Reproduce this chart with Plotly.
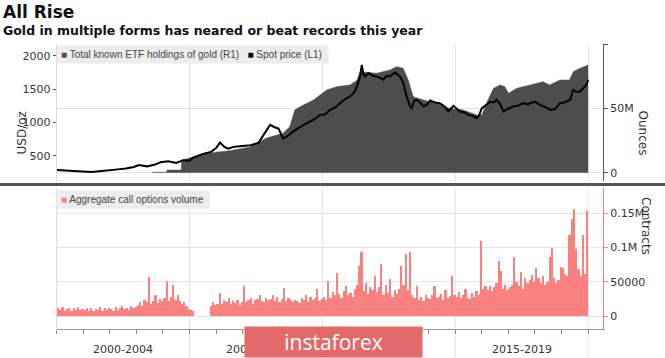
import plotly.graph_objects as go

W, H = 665, 358

# ---------------- data ----------------
spot_x = [2000.0, 2000.3, 2000.6, 2001.0, 2001.3, 2001.6, 2002.0, 2002.3, 2002.6, 2002.9,
          2003.1, 2003.4, 2003.7, 2003.9, 2004.2, 2004.5, 2004.75, 2005.0, 2005.1, 2005.5,
          2005.8, 2006.0, 2006.15, 2006.3, 2006.45, 2006.7, 2007.0, 2007.3, 2007.6, 2007.9,
          2008.03, 2008.2, 2008.35, 2008.52, 2008.7, 2008.9, 2009.1, 2009.42, 2009.7, 2009.91,
          2010.1, 2010.29, 2010.5, 2010.66, 2010.85, 2011.04, 2011.2, 2011.3, 2011.42, 2011.48,
          2011.55, 2011.6, 2011.73, 2011.9, 2012.04, 2012.2, 2012.29, 2012.42, 2012.54, 2012.73,
          2012.85, 2012.92, 2013.04, 2013.17, 2013.3, 2013.36, 2013.46, 2013.55, 2013.7, 2013.8,
          2013.95, 2014.05, 2014.25, 2014.42, 2014.6, 2014.74, 2014.93, 2015.05, 2015.18, 2015.35,
          2015.49, 2015.65, 2015.81, 2015.9, 2016.0, 2016.15, 2016.31, 2016.45, 2016.56, 2016.7,
          2016.81, 2016.95, 2017.18, 2017.35, 2017.56, 2017.75, 2017.94, 2018.05, 2018.19, 2018.35,
          2018.57, 2018.75, 2018.94, 2019.1, 2019.32, 2019.44, 2019.55, 2019.7, 2019.8, 2019.88,
          2019.95, 2020.0]
spot_y = [291, 285, 278, 265, 262, 272, 282, 300, 312, 335,
          365, 345, 372, 405, 420, 395, 435, 430, 470, 530,
          560, 620, 700, 640, 610, 640, 650, 660, 700, 900,
          965, 930, 910, 760, 800, 865, 920, 990, 1050, 1115,
          1120, 1190, 1230, 1290, 1350, 1390, 1450, 1540, 1700, 1860,
          1720, 1690, 1740, 1700, 1690, 1660, 1640, 1700, 1690, 1750,
          1720, 1690, 1600, 1390, 1240, 1215, 1330, 1340, 1290, 1240,
          1270, 1330, 1300, 1290, 1240, 1165, 1250, 1210, 1165, 1150,
          1115, 1100, 1065, 1110, 1215, 1260, 1310, 1300, 1340, 1270,
          1165, 1200, 1240, 1250, 1290, 1275, 1310, 1300, 1260, 1240,
          1190, 1200, 1290, 1300, 1340, 1490, 1460, 1465, 1500, 1540,
          1580, 1640]

etf_x = [2003.6, 2004.14, 2004.15, 2004.69, 2004.7, 2005.37, 2006.0, 2006.5, 2007.28, 2007.9,
         2008.52, 2008.77, 2008.96, 2009.16, 2009.66, 2010.16, 2010.54, 2011.04, 2011.3, 2011.42,
         2012.04, 2012.54, 2012.79, 2013.04, 2013.23, 2013.42, 2013.8, 2014.3, 2014.8, 2015.3,
         2015.8, 2016.0, 2016.2, 2016.44, 2016.69, 2016.87, 2017.0, 2017.32, 2017.82, 2018.3,
         2018.55, 2018.94, 2019.3, 2019.44, 2019.7, 2020.0]
etf_m = [0.4, 0.4, 2.0, 2.0, 9.5, 13.8, 16, 17, 20, 27,
         30.7, 35.8, 48.8, 51.4, 56.6, 64.4, 67, 68.3, 72, 78.7,
         77.4, 80, 82.6, 81.3, 72.2, 59.2, 56.6, 54, 50, 48.8,
         45, 45, 55.3, 65.7, 68.3, 67, 61.8, 65.7, 68.3, 70.9,
         68.3, 72.2, 72.2, 78.7, 81.3, 83.9]  # millions of ounces

calls_k = {
    2000: [11, 9, 13, 8, 10, 12, 8, 11, 9, 13, 9, 10],
    2001: [9, 11, 8, 12, 8, 10, 9, 13, 8, 11, 9, 12],
    2002: [10, 8, 13, 9, 11, 14, 10, 12, 9, 15, 11, 13],
    2003: [16, 20, 14, 24, 20, 57, 18, 22, 30, 19, 25, 22],
    2004: [26, 51, 22, 28, 45, 24, 30, 22, 18, 20, 14, 10],
    2005: [9, 7, 0, 0, 0, 0, 0, 0, 0, 14, 20, 16],
    2006: [18, 33, 17, 23, 20, 26, 17, 22, 19, 24, 16, 21],
    2007: [44, 20, 24, 27, 18, 23, 25, 30, 22, 20, 27, 24],
    2008: [25, 31, 22, 28, 21, 25, 41, 22, 26, 24, 20, 23],
    2009: [22, 19, 26, 24, 30, 21, 28, 23, 27, 39, 22, 25],
    2010: [28, 24, 51, 26, 35, 30, 63, 32, 27, 36, 44, 31],
    2011: [34, 28, 40, 45, 73, 93, 36, 48, 32, 42, 38, 59],
    2012: [35, 42, 76, 30, 45, 33, 54, 28, 38, 32, 40, 73],
    2013: [45, 90, 38, 93, 30, 26, 44, 24, 28, 22, 30, 26],
    2014: [25, 30, 44, 26, 28, 32, 24, 38, 27, 29, 58, 30],
    2015: [28, 35, 26, 30, 39, 27, 25, 33, 28, 37, 30, 110],
    2016: [40, 44, 38, 44, 36, 42, 48, 81, 66, 40, 45, 38],
    2017: [42, 45, 86, 50, 44, 65, 40, 55, 48, 52, 60, 50],
    2018: [70, 55, 48, 58, 45, 50, 86, 100, 55, 48, 52, 71],
    2019: [70, 62, 59, 118, 142, 157, 98, 69, 59, 118, 62, 154],
}

period_labels = ["2000-2004", "2005-2009", "2010-2014", "2015-2019"]
period_mid = [2002.5, 2007.5, 2012.5, 2017.5]
period_bounds = [2005, 2010, 2015, 2020]

calls_x, calls_y = [], []
for yr, vals in calls_k.items():
    for m, v in enumerate(vals):
        calls_x.append(yr + (m + 0.5) / 12)
        calls_y.append(v * 1000)

# ---------------- helpers ----------------
def px_x(p):
    return p / W

def px_y(p):
    return 1 - p / H

XR = [2000, 2020.56]
AREA_C = "#4d4d4d"
BAR_C = "#fb8080"
GRID_C = "#e4e4e4"
FONT = "DejaVu Sans"

fig = go.Figure()

fig.add_trace(go.Scatter(x=etf_x, y=[v * 1e6 for v in etf_m], mode="lines",
                         line=dict(color=AREA_C, width=0.5), fill="tozeroy",
                         fillcolor=AREA_C, xaxis="x", yaxis="y", showlegend=False,
                         hoverinfo="skip"))
fig.add_trace(go.Scatter(x=spot_x, y=spot_y, mode="lines",
                         line=dict(color="#000000", width=2), xaxis="x", yaxis="y2",
                         showlegend=False))
fig.add_trace(go.Bar(x=calls_x, y=calls_y, width=1 / 12, marker=dict(color=BAR_C, line=dict(width=0)),
                     xaxis="x2", yaxis="y3", showlegend=False))

tickfont = dict(family=FONT, size=11, color="#333333")

fig.update_layout(
    width=W, height=H,
    margin=dict(l=0, r=0, t=0, b=0),
    paper_bgcolor="white", plot_bgcolor="white",
    bargap=0,
    xaxis=dict(domain=[px_x(56.7), px_x(603)], range=XR, anchor="y",
               tickvals=period_bounds, showticklabels=False, ticks="",
               showgrid=True, gridcolor=GRID_C, zeroline=False, showline=False),
    yaxis=dict(domain=[px_y(181), px_y(44)], range=[-6.47e6, 100.23e6], side="right",
               anchor="x", tickvals=[0, 50e6, 100e6], ticktext=["0", "50M", ""],
               ticks="outside", ticklen=4, tickcolor="#555555", showline=True,
               linecolor="#555555", linewidth=1, showgrid=True, gridcolor=GRID_C,
               zeroline=False, tickfont=tickfont),
    yaxis2=dict(overlaying="y", side="left", anchor="x", range=[126, 2175],
                tickvals=[500, 1000, 1500, 2000], ticks="outside", ticklen=3,
                tickcolor="#555555", showgrid=False, showline=True, linecolor="#d8d8d8",
                zeroline=False, tickfont=tickfont),
    xaxis2=dict(domain=[px_x(56.7), px_x(603)], range=XR, anchor="y3",
                tickvals=list(range(2000, 2021)), ticks="outside", ticklen=4,
                tickcolor="#888888", showticklabels=False, showgrid=False,
                showline=True, linecolor="#999999", zeroline=False),
    yaxis3=dict(domain=[px_y(329), px_y(188)], range=[-18987, 186950], side="right",
                anchor="x2", tickvals=[0, 50000, 100000, 150000],
                ticktext=["0", "50000", "0.1M", "0.15M"], ticks="outside", ticklen=4,
                tickcolor="#f08080", showline=True, linecolor="#f08080",
                showgrid=True, gridcolor=GRID_C, zeroline=False, tickfont=tickfont),
)

shapes = []
# period separators in bottom panel extending through label area
for b in period_bounds:
    shapes.append(dict(type="line", xref="x2", yref="paper", x0=b, x1=b,
                       y0=0, y1=px_y(188), line=dict(color=GRID_C, width=1), layer="below"))
# left edge of bottom panel
shapes.append(dict(type="line", xref="paper", yref="paper", x0=px_x(56.7), x1=px_x(56.7),
                   y0=px_y(329), y1=px_y(188), line=dict(color="#d8d8d8", width=1), layer="below"))
# divider
shapes.append(dict(type="line", xref="paper", yref="paper", x0=0, x1=1,
                   y0=px_y(184.5), y1=px_y(184.5), line=dict(color="#555555", width=3)))

ann = []
ann.append(dict(text="<b>All Rise</b>", x=px_x(1), y=px_y(0), xref="paper", yref="paper",
                xanchor="left", yanchor="top", showarrow=False,
                font=dict(family=FONT, size=17, color="#111111")))
ann.append(dict(text="<b>Gold in multiple forms has neared or beat records this year</b>",
                x=px_x(1), y=px_y(21), xref="paper", yref="paper", xanchor="left",
                yanchor="top", showarrow=False, font=dict(family=FONT, size=12.5, color="#111111")))
ann.append(dict(text=("<span style='color:#4d4d4d'>■</span> Total known ETF holdings of gold (R1)"
                      "   <span style='color:#000000'>■</span> Spot price (L1) "),
                x=px_x(57), y=px_y(54), xref="paper", yref="paper", xanchor="left",
                yanchor="middle", showarrow=False, bgcolor="#ececec", borderpad=3,
                font=dict(family="Liberation Sans", size=10, color="#444444")))
ann.append(dict(text="<span style='color:#fb8080'>■</span> Aggregate call options volume ",
                x=px_x(57), y=px_y(199), xref="paper", yref="paper", xanchor="left",
                yanchor="middle", showarrow=False, bgcolor="#ececec", borderpad=3,
                font=dict(family="Liberation Sans", size=10, color="#444444")))
ann.append(dict(text="USD/oz", x=px_x(12), y=px_y(110), xref="paper", yref="paper",
                textangle=-90, showarrow=False, font=dict(family=FONT, size=12, color="#333333")))
ann.append(dict(text="Ounces", x=px_x(652), y=px_y(108), xref="paper", yref="paper",
                textangle=90, showarrow=False, font=dict(family=FONT, size=12, color="#333333")))
ann.append(dict(text="Contracts", x=px_x(655), y=px_y(257), xref="paper", yref="paper",
                textangle=90, showarrow=False, font=dict(family=FONT, size=12, color="#333333")))
for lab, mid in zip(period_labels, period_mid):
    ann.append(dict(text=lab, x=mid, y=px_y(349), xref="x2", yref="paper", showarrow=False,
                    yanchor="middle", font=dict(family=FONT, size=11, color="#333333")))
# watermark (drawn last so it covers the labels beneath it)
ann.append(dict(text="instaforex", x=px_x(333.5), y=px_y(342), xref="paper", yref="paper",
                xanchor="center", yanchor="middle", showarrow=False, width=177, height=30,
                bgcolor="#e26a6a", borderpad=0,
                font=dict(family="Open Sans", size=21, color="white")))

fig.update_layout(shapes=shapes, annotations=ann)
fig.write_html("out.html", config={"displayModeBar": False},
               post_script="document.body.style.margin='0';document.body.style.overflow='hidden';")
